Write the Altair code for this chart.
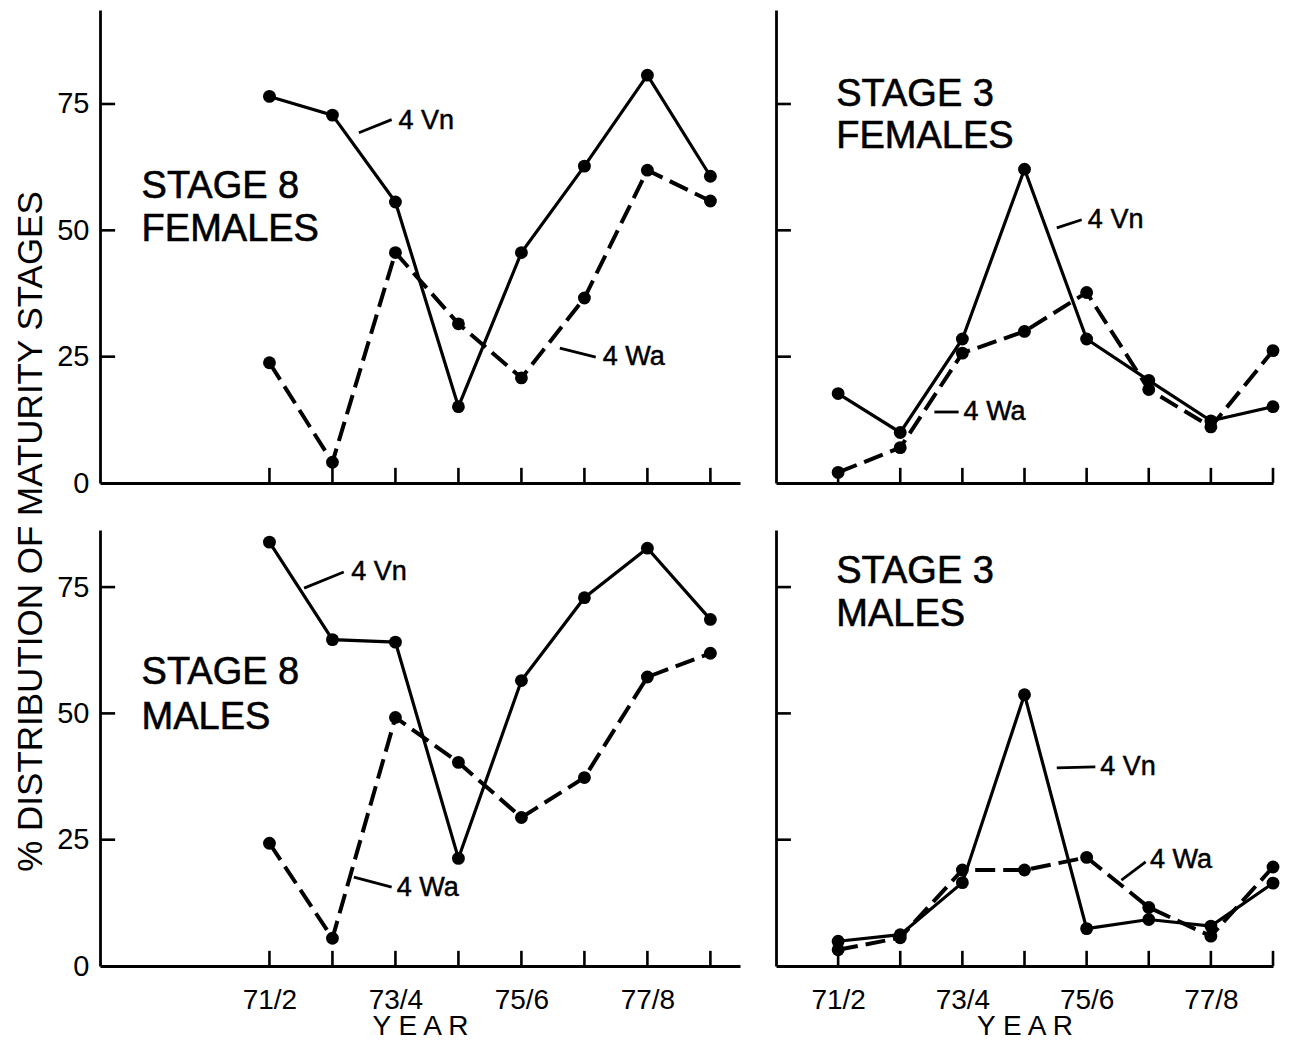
import altair as alt
import pandas as pd

# ---------------- data ----------------
years = ["71/2", "72/3", "73/4", "74/5", "75/6", "76/7", "77/8", "78/9"]
year_idx = list(range(len(years)))
xtick_idx = [0, 2, 4, 6]
xtick_labels = ["71/2", "73/4", "75/6", "77/8"]
ytick_values = [0, 25, 50, 75]

s8f_vn = [76.5, 72.8, 55.6, 15.1, 45.6, 62.7, 80.7, 60.7]
s8f_wa = [23.8, 4.1, 45.6, 31.5, 20.8, 36.6, 61.9, 55.8]
s3f_vn = [17.7, 10.0, 28.5, 62.1, 28.5, 20.3, 12.3, 15.1]
s3f_wa = [2.1, 7.0, 25.7, 30.0, 37.7, 18.5, 11.1, 26.2]
s8m_vn = [83.9, 64.6, 64.1, 21.3, 56.5, 72.9, 82.7, 68.6]
s8m_wa = [24.3, 5.5, 49.2, 40.3, 29.4, 37.3, 57.2, 61.9]
s3m_vn = [4.9, 6.2, 16.5, 53.7, 7.4, 9.2, 7.9, 16.4]
s3m_wa = [3.2, 5.6, 19.0, 19.0, 21.5, 11.6, 5.9, 19.6]

series_names = ["4 Vn", "4 Wa"]

# panel titles and annotation anchors (data coordinates)
tl_title = ["STAGE 8", "FEMALES"]
tr_title = ["STAGE 3", "FEMALES"]
bl_title = ["STAGE 8", "MALES"]
br_title = ["STAGE 3", "MALES"]

tl_title_xy = [(-2.03, 58.6), (-2.03, 50.1)]
tr_title_xy = [(-0.03, 76.8), (-0.03, 68.5)]
bl_title_xy = [(-2.03, 58.0), (-2.03, 49.1)]
br_title_xy = [(-0.03, 78.0), (-0.03, 69.5)]

# series labels: (x, y) of text, leader (x1, y1, x2, y2)
tl_labels = [(2.05, 71.6), (5.29, 24.9)]
tl_leaders = [(1.42, 69.3, 1.94, 71.9), (4.61, 26.7, 5.18, 24.9)]
tr_labels = [(4.02, 52.1), (2.02, 14.05)]
tr_leaders = [(3.52, 50.5, 3.92, 52.1), (1.55, 14.05, 1.94, 14.05)]
bl_labels = [(1.30, 78.0), (2.02, 15.4)]
bl_leaders = [(0.55, 74.8, 1.18, 78.0), (1.34, 17.6, 1.94, 15.6)]
br_labels = [(4.22, 39.4), (5.02, 21.0)]
br_leaders = [(3.52, 39.2, 4.14, 39.4), (4.56, 17.0, 4.95, 20.6)]

FONT = "Liberation Sans"
LEFT_X = (-2.69, 7.47)
RIGHT_X = (-1.0, 7.0)
TOP_YMAX = 93.6
BOT_YMAX = 86.3

label_expr = " : ".join(
    f"datum.value == {k} ? '{v}'" for k, v in zip(xtick_idx, xtick_labels)
) + " : ''"


def panel(vn, wa, xdom, ymax, w, h, title_lines, title_xy, labels, leaders,
          show_x, show_y, ytitle=False):
    df = pd.DataFrame({
        "idx": year_idx * 2,
        "value": vn + wa,
        "series": [series_names[0]] * len(vn) + [series_names[1]] * len(wa),
    })
    xs = alt.Scale(domain=list(xdom), nice=False, zero=False)
    ys = alt.Scale(domain=[0, ymax], nice=False, zero=False)

    xaxis_kw = dict(values=xtick_idx, ticks=False, grid=False,
                    domainColor="black", domainWidth=2.8,
                    labels=show_x, labelExpr=label_expr,
                    labelFont=FONT, labelFontSize=28, labelColor="black",
                    labelPadding=20,
                    title="Y E A R" if show_x else "",
                    titleFont=FONT, titleFontSize=28, titleFontWeight="normal",
                    titleColor="black", titlePadding=-2)
    yaxis_kw = dict(values=ytick_values, ticks=False, grid=False,
                    domainColor="black", domainWidth=2.8,
                    labels=show_y, labelFont=FONT, labelFontSize=29,
                    labelColor="black", labelPadding=11,
                    title="")
    if ytitle:
        yaxis_kw.update(title="% DISTRIBUTION OF MATURITY STAGES",
                        titleFont=FONT, titleFontSize=35,
                        titleFontWeight="normal", titleColor="black",
                        titleX=-70, titleY=521, titleAngle=270,
                        titleAlign="center", titleBaseline="middle")

    X = alt.X("idx:Q", scale=xs, axis=alt.Axis(**xaxis_kw))
    Y = alt.Y("value:Q", scale=ys, axis=alt.Axis(**yaxis_kw))

    base = alt.Chart(df)
    vn_line = base.transform_filter(alt.datum.series == series_names[0]).mark_line(
        color="black", strokeWidth=3.2).encode(x=X, y=Y)
    wa_line = base.transform_filter(alt.datum.series == series_names[1]).mark_line(
        color="black", strokeWidth=4.0, strokeDash=[20, 8]).encode(x=X, y=Y)
    pts = base.mark_circle(color="black", size=165, opacity=1).encode(x=X, y=Y)

    # inward tick marks
    xt = pd.DataFrame({"idx": year_idx, "y0": [0] * len(year_idx),
                       "y1": [3.0] * len(year_idx)})
    xticks = alt.Chart(xt).mark_rule(color="black", strokeWidth=2.6).encode(
        x=alt.X("idx:Q", scale=xs), y=alt.Y("y0:Q", scale=ys), y2="y1:Q")
    yt = pd.DataFrame({"v": ytick_values[1:],
                       "x0": [xdom[0]] * 3, "x1": [xdom[0] + 0.24] * 3})
    yticks = alt.Chart(yt).mark_rule(color="black", strokeWidth=2.6).encode(
        y=alt.Y("v:Q", scale=ys), x=alt.X("x0:Q", scale=xs), x2="x1:Q")

    tdf = pd.DataFrame({"t": title_lines,
                        "x": [p[0] for p in title_xy],
                        "y": [p[1] for p in title_xy]})
    titles = alt.Chart(tdf).mark_text(
        align="left", baseline="middle", font=FONT, fontSize=38,
        color="black", stroke="black", strokeWidth=0.6).encode(
        x=alt.X("x:Q", scale=xs), y=alt.Y("y:Q", scale=ys), text="t:N")

    ldf = pd.DataFrame({"t": series_names,
                        "x": [p[0] for p in labels],
                        "y": [p[1] for p in labels]})
    lab = alt.Chart(ldf).mark_text(
        align="left", baseline="middle", font=FONT, fontSize=27,
        color="black", stroke="black", strokeWidth=0.5).encode(
        x=alt.X("x:Q", scale=xs), y=alt.Y("y:Q", scale=ys), text="t:N")
    lead_df = pd.DataFrame({"x1": [l[0] for l in leaders],
                            "y1": [l[1] for l in leaders],
                            "x2": [l[2] for l in leaders],
                            "y2": [l[3] for l in leaders]})
    lead = alt.Chart(lead_df).mark_rule(color="black", strokeWidth=2.8).encode(
        x=alt.X("x1:Q", scale=xs), y=alt.Y("y1:Q", scale=ys),
        x2="x2:Q", y2="y2:Q")

    return alt.layer(vn_line, wa_line, pts, xticks, yticks, titles, lab,
                     lead).properties(width=w, height=h)


TL = panel(s8f_vn, s8f_wa, LEFT_X, TOP_YMAX, 640, 473, tl_title, tl_title_xy,
           tl_labels, tl_leaders, show_x=False, show_y=True, ytitle=True)
TR = panel(s3f_vn, s3f_wa, RIGHT_X, TOP_YMAX, 497, 473, tr_title, tr_title_xy,
           tr_labels, tr_leaders, show_x=False, show_y=False)
BL = panel(s8m_vn, s8m_wa, LEFT_X, BOT_YMAX, 640, 436, bl_title, bl_title_xy,
           bl_labels, bl_leaders, show_x=True, show_y=True)
BR = panel(s3m_vn, s3m_wa, RIGHT_X, BOT_YMAX, 497, 436, br_title, br_title_xy,
           br_labels, br_leaders, show_x=True, show_y=False)

chart = alt.concat(TL, TR, BL, BR, columns=2,
                   spacing={"row": 47, "column": 36},
                   bounds="flush").configure_view(strokeWidth=0).properties(
    padding={"left": 4, "top": 2, "right": 0, "bottom": 0},
    background="white")

chart.save("out.html", embed_options={"renderer": "svg", "actions": False})
